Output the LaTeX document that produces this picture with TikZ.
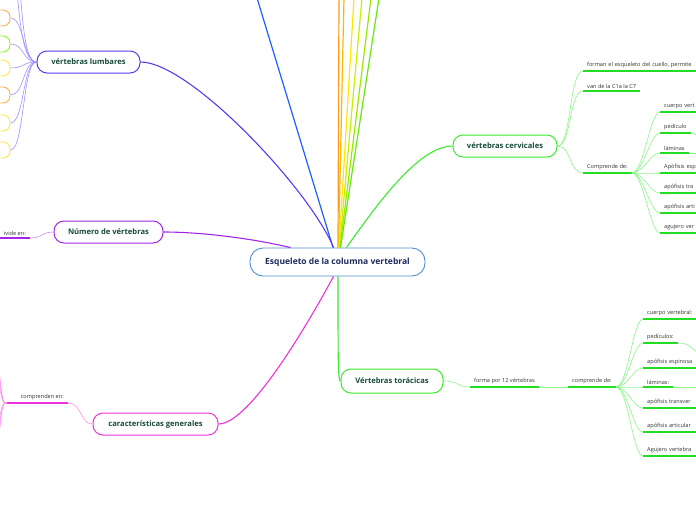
\documentclass[tikz,border=0pt]{standalone}
\usepackage{fontspec}
\setmainfont{Open Sans}
\definecolor{cblue}{HTML}{4D90CF}
\definecolor{cnavy}{HTML}{1C2A5C}
\definecolor{nodetxt}{HTML}{174A3C}
\definecolor{leaftxt}{HTML}{333333}
\definecolor{blueL}{HTML}{2060FF}
\definecolor{lumbc}{HTML}{5B3BF0}
\definecolor{lumbthin}{HTML}{A090FF}
\definecolor{numc}{HTML}{A526EA}
\definecolor{numthin}{HTML}{CC8CFF}
\definecolor{pinkc}{HTML}{EE33DD}
\definecolor{pinkthin}{HTML}{FF90EE}
\definecolor{greenc}{HTML}{3EEA2E}
\definecolor{gthin}{HTML}{8CF58C}
\definecolor{gthick}{HTML}{22DD22}
\definecolor{oa}{HTML}{FF9A1A}
\definecolor{ob}{HTML}{FFB700}
\definecolor{oc}{HTML}{FFE800}
\definecolor{od}{HTML}{C8F000}
\definecolor{oe}{HTML}{9AE800}
\definecolor{of}{HTML}{66E814}
\definecolor{kor}{HTML}{FFB04D}
\definecolor{kgr}{HTML}{99EE33}
\definecolor{kye}{HTML}{FFE94D}
\tikzset{
  mainbox/.style={draw=cblue, line width=0.9pt, rounded corners=13pt, fill=white,
    minimum width=175pt, minimum height=28pt, font=\fontsize{8.5}{10}\selectfont\bfseries, text=cnavy},
  branch/.style={draw, rounded corners=10pt, line width=1pt, fill=white, minimum height=22pt,
    font=\fontsize{7.6}{9}\selectfont\bfseries, text=nodetxt, inner xsep=0pt},
  kidbox/.style={draw, rounded corners=7pt, line width=0.9pt, minimum width=50pt, minimum height=16pt, inner sep=0pt},
  leaf/.style={anchor=south west, inner xsep=4pt, inner ysep=2.5pt, font=\fontsize{5.6}{7}\selectfont, text=leaftxt},
  cut/.style={text width=60pt, align=left},
  gline/.style={draw=gthin, line width=0.6pt},
  guline/.style={draw=gthick, line width=1.3pt},
  topline/.style={line width=1.2pt},
}
\newcommand{\gleaf}[4]{\node[leaf,#4] (#1) at (#2) {#3}; \draw[guline] (#1.south west) -- (#1.south east);}
\begin{document}
\begin{tikzpicture}[x=1pt,y=-1pt]
\useasboundingbox (0,0) rectangle (696,520);
\clip (0,0) rectangle (696,520);
\fill[white] (0,0) rectangle (696,520);

% main nodes
\node[mainbox] (c) at (337.5,262) {Esqueleto de la columna vertebral};
\node[branch, draw=lumbc, minimum width=103pt] (lumb) at (88.5,62) {vértebras lumbares};
\node[branch, draw=numc, minimum width=109pt] (num) at (108.5,232) {Número de vértebras};
\node[branch, draw=pinkc, minimum width=125pt] (car) at (155.5,424) {características generales};
\node[branch, draw=greenc, minimum width=104pt] (cerv) at (505,146) {vértebras cervicales};
\node[branch, draw=greenc, minimum width=102pt, minimum height=24pt] (tor) at (392,381) {Vértebras torácicas};

% top lines
\coordinate (tb) at (257,-2);
\coordinate (t1) at (339,-2);
\coordinate (t2) at (344,-2);
\coordinate (t3) at (354,-2);
\coordinate (t4) at (362,-2);
\coordinate (t5) at (371,-2);
\coordinate (t6) at (379,-2);
\draw[topline, blueL] ([xshift=-4.5pt]c.north) -- (tb);
\draw[topline, oa] ([xshift=0.5pt]c.north) -- (t1);
\draw[topline, ob] ([xshift=1pt]c.north) -- (t2);
\draw[topline, oc] ([xshift=1.5pt]c.north) -- (t3);
\draw[topline, od] ([xshift=2pt]c.north) -- (t4);
\draw[topline, oe] ([xshift=2.5pt]c.north) -- (t5);
\draw[topline, of] ([xshift=3pt]c.north) -- (t6);

% branch connectors
\draw[lumbc, line width=1.1pt] ([xshift=-4pt]c.north) .. controls (310,190) and (190,62) .. (lumb.east);
\draw[numc, line width=1.1pt] (num.east) .. controls (200,232) and (250,238) .. ([xshift=-47pt]c.north);
\draw[pinkc, line width=1.1pt] ([xshift=-4pt]c.south) .. controls (310,320) and (250,424) .. (car.east);
\draw[greenc, line width=1.1pt] ([xshift=9pt]c.north) .. controls (380,200) and (420,146) .. (cerv.west);
\draw[greenc, line width=1.1pt] ([xshift=0.5pt]c.south) .. controls (338,360) and (338,381) .. (tor.west);

% lumbares children
\node[kidbox, draw=kor] (k1) at (-15,18) {};
\node[kidbox, draw=kgr] (k2) at (-15,44) {};
\node[kidbox, draw=kye] (k3) at (-15,68) {};
\node[kidbox, draw=kor] (k4) at (-15,95) {};
\node[kidbox, draw=kye] (k5) at (-15,123) {};
\node[kidbox, draw=kye] (k6) at (-15,150) {};
\coordinate (ku1) at (17,-8);
\coordinate (ku2) at (20,-8);
\foreach \k in {k1,k2,k3,k4,k5,k6}{
  \draw[lumbthin, line width=0.6pt] (lumb.west) .. controls +(-14,0) and +(14,0) .. (\k.east);
}
\draw[lumbthin, line width=0.6pt] (lumb.west) .. controls +(-14,0) and (20,20) .. (ku1);
\draw[lumbthin, line width=0.6pt] (lumb.west) .. controls +(-12,0) and (23,20) .. (ku2);

% numero child
\node[leaf, anchor=south east] (nd) at (30,238) {ivide en:};
\draw[numc, line width=1.3pt] (nd.south west) -- (nd.south east);
\draw[numthin, line width=0.6pt] (nd.south east) .. controls (42,238) and (42,232) .. (num.west);

% caracteristicas child
\node[leaf, anchor=south east] (cg) at (68,403) {comprenden en:};
\coordinate (cf) at (7,403);
\draw[pinkc, line width=1.3pt] (cf) -- (cg.south east);
\draw[pinkthin, line width=0.6pt] (cg.south east) .. controls (82,403) and (80,424) .. (car.west);
\coordinate (cp1) at (-3,352);
\coordinate (cp2) at (-3,364);
\coordinate (cp3) at (-3,376);
\coordinate (cp4) at (-3,428);
\coordinate (cp5) at (-3,440);
\coordinate (cp6) at (-3,452);
\foreach \p in {cp1,cp2,cp3,cp4,cp5,cp6}{
  \draw[pinkthin, line width=0.6pt] (cf) .. controls (2,403) and (3,403) .. (\p);
}

% cervicales children
\gleaf{fc1}{583,71}{forman el esqueleto del cuello, permite}{cut, text width=130pt}
\gleaf{fc2}{583,91}{van de la C1a la C7}{}
\gleaf{fc3}{583,173}{Comprende de:}{}
\foreach \n in {fc1,fc2,fc3}{
  \draw[gline] (cerv.east) .. controls +(14,0) and +(-14,0) .. (\n.south west);
}
\gleaf{pc1}{660,112}{cuerpo vert}{cut}
\gleaf{pc2}{660,133}{pedículo}{}
\gleaf{pc3}{660,153}{láminas}{}
\gleaf{pc4}{660,173}{Apófisis esp}{cut}
\gleaf{pc5}{660,193}{apófisis tra}{cut}
\gleaf{pc6}{660,213}{apófisis arti}{cut}
\gleaf{pc7}{660,233}{agujero ver}{cut}
\foreach \n in {pc1,pc2,pc3,pc4,pc5,pc6,pc7}{
  \draw[gline] (fc3.south east) .. controls +(12,0) and +(-10,0) .. (\n.south west);
}
\coordinate (ex1) at (704,140);
\coordinate (ex2) at (704,153);
\draw[gline] (pc2.south east) .. controls +(5,0) and (696,136) .. (ex1);
\draw[gline] (pc3.south east) -- (ex2);

% toracicas children
\gleaf{ft1}{470,387}{forma por 12 vértebras}{}
\gleaf{ft2}{568,387}{comprende de:}{}
\draw[gline] (tor.east) .. controls +(16,0) and +(-14,0) .. (ft1.south west);
\draw[gline] (ft1.south east) -- (ft2.south west);
\gleaf{pt1}{643,319}{cuerpo vertebral:}{cut}
\gleaf{pt2}{643,343}{pedículos:}{}
\gleaf{pt3}{643,368}{apófisis espinosa}{cut}
\gleaf{pt4}{643,387}{láminas:}{}
\gleaf{pt5}{643,408}{apófisis transver}{cut}
\gleaf{pt6}{643,432}{apófisis articular}{cut}
\gleaf{pt7}{643,456}{Agujero vertebra}{cut}
\foreach \n in {pt1,pt2,pt3,pt4,pt5,pt6,pt7}{
  \draw[gline] (ft2.south east) .. controls +(12,0) and +(-10,0) .. (\n.south west);
}
\coordinate (ex3) at (704,356);
\coordinate (ex4) at (704,387);
\draw[gline] (pt2.south east) .. controls +(14,0) and (690,350) .. (ex3);
\draw[gline] (pt4.south east) -- (ex4);
\end{tikzpicture}
\end{document}
